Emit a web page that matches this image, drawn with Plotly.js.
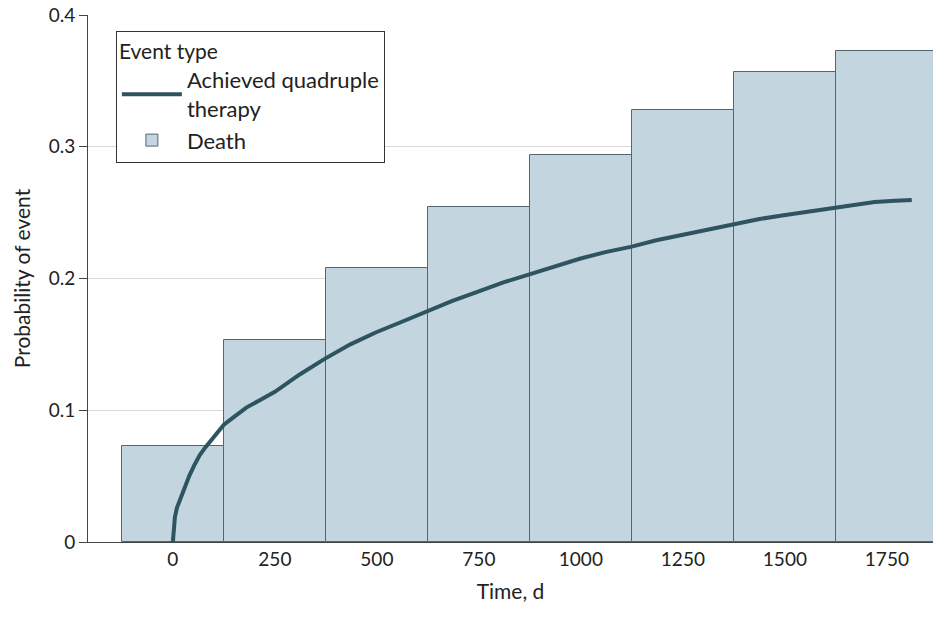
<!DOCTYPE html>
<html>
<head>
<script src="https://cdn.plot.ly/plotly-3.0.1.min.js"></script>
<style>body{margin:0}</style>
</head>
<body>
<div id="chart" style="width:940px;height:627px"></div>
<script>
var barDays = [0, 250, 500, 750, 1000, 1250, 1500, 1750];
var deathProb = [0.073, 0.153, 0.208, 0.254, 0.294, 0.328, 0.357, 0.373];

var curveDays = [0, 2, 5, 10, 17, 28, 40, 52, 66, 80, 95, 110, 125, 150, 180, 215, 250, 310, 372, 435, 497, 560, 622, 685, 748, 810, 872, 935, 997, 1060, 1122, 1185, 1247, 1310, 1372, 1435, 1497, 1560, 1622, 1680, 1720, 1770, 1811];
var quadProb = [0, 0.012, 0.019, 0.026, 0.032, 0.041, 0.05, 0.058, 0.066, 0.072, 0.078, 0.084, 0.089, 0.095, 0.102, 0.108, 0.114, 0.127, 0.139, 0.15, 0.159, 0.167, 0.175, 0.183, 0.19, 0.197, 0.203, 0.209, 0.215, 0.22, 0.224, 0.229, 0.233, 0.237, 0.241, 0.245, 0.248, 0.251, 0.2535, 0.256, 0.258, 0.259, 0.2596];

var death = {
    x: barDays, y: deathProb, type: 'bar', name: 'Death', width: 250,
    marker: {color: '#c3d5de', line: {color: '#55666e', width: 1}}
};
var quad = {
    x: curveDays, y: quadProb, type: 'scatter', mode: 'lines',
    name: 'Achieved quadruple<br>therapy',
    line: {color: '#2e5461', width: 4}
};

var layout = {
    margin: {l: 88, r: 7, t: 15, b: 85},
    font: {family: 'Lato, sans-serif', size: 19, color: '#222'},
    plot_bgcolor: 'white', paper_bgcolor: 'white',
    bargap: 0,
    showlegend: true,
    legend: {
        x: 0.033, y: 0.97, xanchor: 'left', yanchor: 'top',
        bordercolor: '#333', borderwidth: 1, bgcolor: 'white',
        title: {text: 'Event type  ', font: {size: 21}}, traceorder: 'normal',
        font: {size: 22}, itemwidth: 60, tracegroupgap: 12
    },
    xaxis: {
        range: [-208, 1863], tickvals: barDays, ticks: '',
        showgrid: false, zeroline: false, showline: true, linecolor: '#444',
        title: {text: 'Time, d', standoff: 15, font: {size: 21}}
    },
    yaxis: {
        range: [0, 0.4], dtick: 0.1, tickformat: '.1~f', ticks: 'outside', ticklen: 8,
        tickcolor: '#444', showline: true, linecolor: '#444', zeroline: false,
        gridcolor: '#d9d9d9', title: {text: 'Probability of event', standoff: 12, font: {size: 21}}
    }
};

Plotly.newPlot('chart', [quad, death], layout, {displayModeBar: false});
</script>
</body>
</html>
